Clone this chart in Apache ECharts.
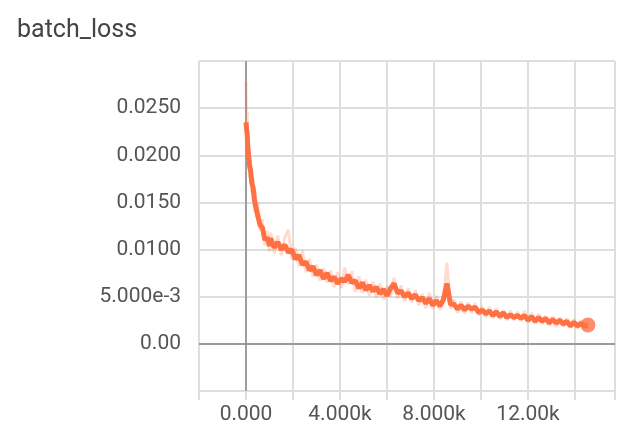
<!DOCTYPE html>
<html>
<head>
<meta charset="utf-8">
<script src="https://cdn.jsdelivr.net/npm/echarts@6/dist/echarts.min.js"></script>
<style>
html,body{margin:0;padding:0;background:#fff;}
#chart{width:618px;height:429px;}
</style>
</head>
<body>
<div id="chart"></div>
<script>
var chartTitle = 'batch_loss';

var steps = [0,25,50,75,100,150,200,250,300,350,400,450,500,600,700,800,900,1000,
1050,1200,1350,1500,1650,1800,1950,2100,2250,2400,2550,2700,2850,3000,3150,3300,3450,3600,3750,3900,
4050,4200,4350,4500,4650,4800,4950,5100,5250,5400,5550,5700,5850,6000,6150,6300,6450,6600,6750,6900,
7050,7200,7350,7500,7650,7800,7950,8100,8250,8400,8550,8700,8850,9000,9150,9300,9450,9600,9750,9900,
10050,10200,10350,10500,10650,10800,10950,11100,11250,11400,11550,11700,11850,12000,12150,12300,12450,
12600,12750,12900,13050,13200,13350,13500,13650,13800,13950,14100,14250,14400,14550];

var smoothedLoss = [0.0235,0.0228,0.0222,0.0209,0.0203,0.0189,0.0183,0.0170,0.0166,0.0154,0.0153,0.0141,0.0140,0.0126,0.0123,0.0110,0.0113,0.0104,
0.0112,0.0102,0.0108,0.0100,0.0105,0.0097,0.0100,0.0090,0.0094,0.0084,0.0087,0.0078,0.0082,0.0073,0.0078,0.0069,0.0075,0.0067,0.0071,0.0064,
0.0069,0.0066,0.0073,0.0065,0.0067,0.0059,0.0065,0.0057,0.0062,0.0056,0.0060,0.0053,0.0058,0.0051,0.0059,0.0064,0.0054,0.0056,0.0050,0.0054,
0.0048,0.0052,0.0046,0.0049,0.0043,0.0048,0.0041,0.0046,0.0040,0.0047,0.0064,0.0042,0.0042,0.0037,0.0041,0.0036,0.0040,0.0037,0.0039,0.0033,
0.0036,0.0032,0.0035,0.0030,0.0034,0.0029,0.0033,0.0028,0.0031,0.0028,0.0030,0.0027,0.0030,0.0025,0.0029,0.0024,0.0028,
0.0024,0.0027,0.0022,0.0026,0.0022,0.0025,0.0021,0.0024,0.0019,0.0023,0.0019,0.0022,0.0019,0.0020];

var rawLoss = [0.0278,0.0225,0.0246,0.0198,0.0214,0.0176,0.0195,0.0160,0.0176,0.0146,0.0162,0.0134,0.0150,0.0120,0.0132,0.0104,0.0120,0.0098,
0.0118,0.0096,0.0115,0.0094,0.0113,0.0121,0.0089,0.0102,0.0082,0.0099,0.0076,0.0090,0.0071,0.0084,0.0067,0.0080,0.0065,0.0078,0.0060,0.0076,
0.0059,0.0081,0.0063,0.0077,0.0055,0.0072,0.0054,0.0068,0.0051,0.0066,0.0049,0.0064,0.0047,0.0061,0.0050,0.0070,0.0048,0.0062,0.0045,0.0059,
0.0044,0.0057,0.0041,0.0053,0.0038,0.0054,0.0037,0.0051,0.0036,0.0050,0.0086,0.0037,0.0047,0.0033,0.0045,0.0032,0.0044,0.0033,0.0043,0.0030,
0.0040,0.0028,0.0039,0.0027,0.0038,0.0026,0.0036,0.0025,0.0035,0.0025,0.0034,0.0024,0.0035,0.0023,0.0033,0.0021,0.0032,
0.0021,0.0030,0.0019,0.0029,0.0018,0.0028,0.0018,0.0027,0.0017,0.0026,0.0016,0.0025,0.0016,0.0022];

var xTickValues = [0, 4000, 8000, 12000];
var xTickLabels = ['0.000', '4.000k', '8.000k', '12.00k'];
var yTickValues = [0, 0.005, 0.010, 0.015, 0.020, 0.025];
var yTickLabels = ['0.00', '5.000e-3', '0.0100', '0.0150', '0.0200', '0.0250'];

function pairs(xs, ys) {
  var out = [];
  for (var i = 0; i < xs.length; i++) out.push([xs[i], ys[i]]);
  return out;
}
function lookup(vals, labels, v) {
  for (var i = 0; i < vals.length; i++) {
    if (Math.abs(vals[i] - v) < 1e-9 * Math.max(1, Math.abs(vals[i]))) return labels[i];
  }
  return '';
}

var gridColor = '#dedede';
var zeroColor = '#9a9a9a';
var orange = '#ff7043';
var last = steps.length - 1;

var chart = echarts.init(document.getElementById('chart'), null, {renderer: 'canvas'});
chart.setOption({
  animation: false,
  backgroundColor: '#fff',
  textStyle: {fontFamily: 'Roboto'},
  title: {
    text: chartTitle,
    left: 12, top: 13,
    textStyle: {fontFamily: 'Roboto', fontSize: 25, fontWeight: 'normal', color: '#444'}
  },
  grid: {left: 199, right: -1.4, top: 61, bottom: 38, containLabel: false},
  xAxis: {
    type: 'value',
    min: -2000, max: 15700, interval: 2000,
    axisLine: {show: false, onZero: false},
    axisTick: {show: true, length: 9, lineStyle: {color: gridColor, width: 2}},
    splitLine: {show: true, lineStyle: {color: gridColor, width: 2}},
    axisLabel: {
      margin: 13, fontSize: 21, color: '#555', fontFamily: 'Roboto',
      showMinLabel: true, showMaxLabel: true,
      formatter: function (v) { return lookup(xTickValues, xTickLabels, v); }
    }
  },
  yAxis: {
    type: 'value',
    min: -0.005, max: 0.030, interval: 0.005,
    axisLine: {show: false},
    axisTick: {show: true, length: 8, lineStyle: {color: gridColor, width: 2}},
    splitLine: {show: true, lineStyle: {color: gridColor, width: 2}},
    axisLabel: {
      margin: 18, fontSize: 21, color: '#555', fontFamily: 'Roboto',
      formatter: function (v) { return lookup(yTickValues, yTickLabels, v); }
    }
  },
  series: [
    {
      type: 'line',
      name: 'raw',
      data: pairs(steps, rawLoss),
      showSymbol: false,
      silent: true,
      z: 2,
      lineStyle: {color: 'rgba(255,112,67,0.25)', width: 3},
      markLine: {
        silent: true,
        symbol: ['none', 'none'],
        label: {show: false},
        z: 1,
        data: [
          {yAxis: 0, lineStyle: {color: zeroColor, width: 2, type: 'solid'}},
          {xAxis: 0, lineStyle: {color: '#888', width: 1.5, type: 'solid'}}
        ]
      }
    },
    {
      type: 'line',
      name: 'smoothed',
      data: pairs(steps, smoothedLoss),
      showSymbol: false,
      silent: true,
      z: 3,
      lineStyle: {color: orange, width: 5}
    },
    {
      type: 'scatter',
      name: 'last',
      data: [[steps[last], smoothedLoss[last]]],
      symbolSize: 15,
      z: 4,
      itemStyle: {color: orange}
    }
  ]
});
</script>
</body>
</html>
